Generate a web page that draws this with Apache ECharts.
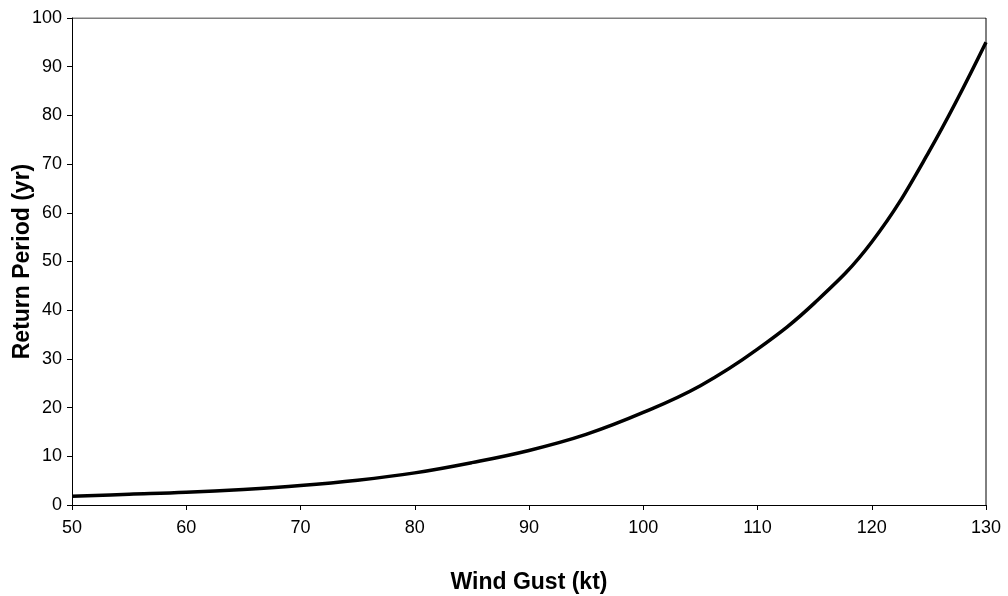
<!DOCTYPE html>
<html><head><meta charset="utf-8">
<script src="https://cdn.jsdelivr.net/npm/echarts@6/dist/echarts.min.js"></script>
<style>html,body{margin:0;padding:0;background:#fff}#c{width:1008px;height:596px}</style>
</head><body><div id="c"></div>
<script>
// wind gust (kt) vs return period (yr)
var gust = [50, 55, 60, 65, 70, 75, 80, 85, 90, 95, 100, 105, 110, 115, 120, 125, 130];
var period = [1.8, 2.2, 2.6, 3.2, 4.0, 5.1, 6.6, 8.7, 11.2, 14.5, 19.0, 24.5, 32.0, 41.5, 54.0, 72.5, 95.0];

var chart = echarts.init(document.getElementById('c'));
var font = 'Liberation Sans, Arial, sans-serif';
chart.setOption({
  animation: false,
  grid: {left: 72, right: 22, top: 18, bottom: 91, containLabel: false, outerBoundsMode: 'none'},
  xAxis: {
    type: 'value', min: 50, max: 130, interval: 10,
    name: 'Wind Gust (kt)', nameLocation: 'middle', nameGap: 66, nameMoveOverlap: false,
    nameTextStyle: {fontFamily: font, fontSize: 23, fontWeight: 'bold', color: '#000'},
    axisLine: {lineStyle: {color: '#000'}},
    axisTick: {length: 5, lineStyle: {color: '#000'}},
    axisLabel: {fontFamily: font, fontSize: 18, color: '#000', margin: 14},
    splitLine: {show: false}
  },
  yAxis: {
    type: 'value', min: 0, max: 100, interval: 10,
    name: 'Return Period (yr)', nameLocation: 'middle', nameGap: 38, nameMoveOverlap: false,
    nameTextStyle: {fontFamily: font, fontSize: 23, fontWeight: 'bold', color: '#000'},
    axisLine: {show: true, lineStyle: {color: '#000'}},
    axisTick: {show: true, length: 5, lineStyle: {color: '#000'}},
    axisLabel: {fontFamily: font, fontSize: 18, color: '#000', margin: 10},
    splitLine: {show: false}
  },
  series: [{
    type: 'line', smooth: 0.4, showSymbol: false,
    lineStyle: {color: '#000', width: 3.5},
    data: gust.map(function (g, i) { return [g, period[i]]; })
  }, {
    // closing box on top/right
    type: 'line', silent: true, showSymbol: false,
    lineStyle: {color: '#000', width: 1},
    data: [[50, 100], [130, 100], [130, 0]]
  }]
});
</script></body></html>
